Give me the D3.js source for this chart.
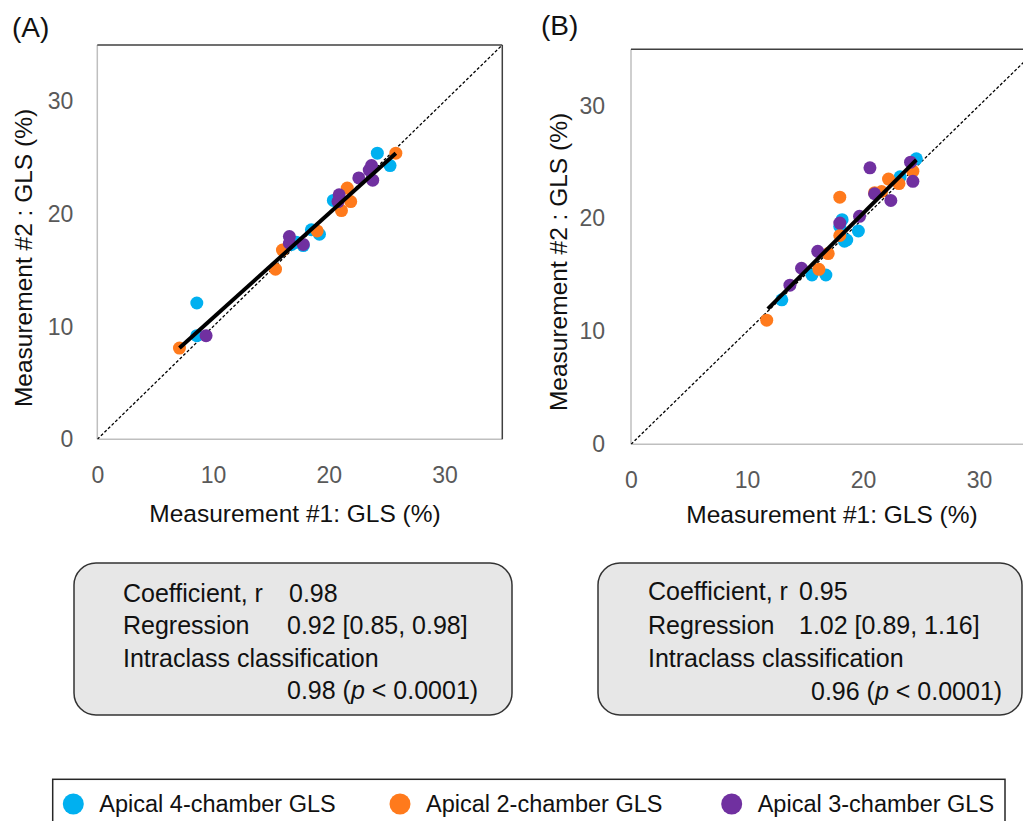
<!DOCTYPE html>
<html>
<head>
<meta charset="utf-8">
<script src="https://cdn.jsdelivr.net/npm/d3@7"></script>
<style>
  html, body { margin: 0; padding: 0; background: #fff; }
  svg { display: block; font-family: "Liberation Sans", Arial, sans-serif; }
</style>
</head>
<body>
<svg id="chart" width="1023" height="821"></svg>
<script>
// ---------- data ----------
const seriesNames = ["Apical 4-chamber GLS", "Apical 2-chamber GLS", "Apical 3-chamber GLS"];
const seriesColors = ["#00B0F0", "#FF7A1C", "#7030A0"];
const tickValues = [0, 10, 20, 30];
const axisDomain = [0, 35];

// Panel A (Measurement #1, Measurement #2)
const A_4ch = [[8.6,12.1],[8.6,9.2],[24.2,25.4],[25.3,24.3],[20.4,21.2],[18.5,18.6],[19.2,18.2],[17.2,17.5],[17.8,17.2],[16.8,17.3]];
const A_2ch = [[7.1,8.1],[25.8,25.4],[21.6,22.3],[21.9,21.1],[21.1,20.3],[19.0,18.5],[16.0,16.8],[15.4,15.1]];
const A_3ch = [[9.4,9.2],[23.7,24.3],[23.5,23.9],[22.6,23.2],[23.8,23.0],[20.9,21.7],[20.8,21.1],[16.6,18.0],[16.6,17.4],[17.8,17.3]];
const A_reg = [[7.1,8.1],[25.8,25.4]];

// Panel B
const B_4ch = [[13.0,12.8],[15.6,15.0],[16.8,15.0],[18.4,18.0],[18.6,18.1],[19.6,18.9],[18.2,19.9],[18.0,19.3],[23.2,23.7],[24.6,25.3]];
const B_2ch = [[11.7,11.0],[16.2,15.5],[17.0,16.9],[18.0,21.9],[18.0,18.5],[21.0,22.3],[21.6,22.4],[22.2,23.5],[23.1,23.1],[24.3,24.2]];
const B_3ch = [[13.7,14.1],[14.7,15.6],[16.1,17.1],[18.0,19.6],[19.7,20.2],[20.6,24.5],[21.0,22.2],[22.4,21.6],[24.1,25.0],[24.3,23.3]];
const B_reg = [[11.8,12.0],[24.6,25.2]];

const statLabels = ["Coefficient, r", "Regression", "Intraclass classification"];
const A_stats = ["0.98", "0.92 [0.85, 0.98]", "0.98"];
const B_stats = ["0.95", "1.02 [0.89, 1.16]", "0.96"];
const pText = "p";
const pRest = " < 0.0001)";

// ---------- drawing ----------
const svg = d3.select("#chart");

function panel(cfg) {
  const x = d3.scaleLinear().domain(axisDomain).range([cfg.x0, cfg.x1]);
  const y = d3.scaleLinear().domain(axisDomain).range([cfg.y0, cfg.y1]);
  const g = svg.append("g");

  const clipId = "clip" + cfg.id;
  svg.append("clipPath").attr("id", clipId).append("rect")
    .attr("x", cfg.x0).attr("y", cfg.y1).attr("width", cfg.x1 - cfg.x0).attr("height", cfg.y0 - cfg.y1);

  // frame: left & bottom grey, top & right dark
  g.append("line").attr("x1", cfg.x0).attr("x2", cfg.x0).attr("y1", cfg.y0).attr("y2", cfg.y1)
    .attr("stroke", "#bfbfbf").attr("stroke-width", 1.5);
  g.append("line").attr("x1", cfg.x0).attr("x2", cfg.x1).attr("y1", cfg.y0).attr("y2", cfg.y0)
    .attr("stroke", "#bfbfbf").attr("stroke-width", 1.5);
  g.append("line").attr("x1", cfg.x0).attr("x2", cfg.x1).attr("y1", cfg.y1).attr("y2", cfg.y1)
    .attr("stroke", "#404040").attr("stroke-width", 1.5);
  g.append("line").attr("x1", cfg.x1).attr("x2", cfg.x1).attr("y1", cfg.y0).attr("y2", cfg.y1)
    .attr("stroke", "#404040").attr("stroke-width", 1.5);

  // axes tick labels
  const ax = g.append("g").attr("transform", `translate(0,${cfg.y0})`)
    .call(d3.axisBottom(x).tickValues(tickValues).tickSize(0).tickPadding(27));
  const ay = g.append("g").attr("transform", `translate(${cfg.x0},0)`)
    .call(d3.axisLeft(y).tickValues(tickValues).tickSize(0).tickPadding(cfg.yPad));
  [ax, ay].forEach(a => {
    a.select(".domain").remove();
    a.selectAll("text").attr("font-size", 23).attr("fill", "#595959")
      .attr("font-family", '"Liberation Sans", Arial, sans-serif');
  });

  // identity line
  g.append("line").attr("clip-path", `url(#${clipId})`)
    .attr("x1", x(0)).attr("y1", y(0)).attr("x2", x(35)).attr("y2", y(35))
    .attr("stroke", "#000").attr("stroke-width", 1.3).attr("stroke-dasharray", "3,2");

  // points
  cfg.series.forEach((data, i) => {
    g.append("g").selectAll("circle").data(data).join("circle")
      .attr("cx", d => x(d[0])).attr("cy", d => y(d[1])).attr("r", 6.5)
      .attr("fill", seriesColors[i]);
  });

  // regression line
  g.append("path").datum(cfg.reg)
    .attr("d", d3.line().x(d => x(d[0])).y(d => y(d[1])))
    .attr("stroke", "#000").attr("stroke-width", 4).attr("fill", "none");

  // titles
  g.append("text").attr("x", cfg.xtX).attr("y", cfg.xtY).attr("text-anchor", "middle")
    .attr("font-size", 24.5).attr("fill", "#111").text("Measurement #1:  GLS (%)");
  g.append("text").attr("transform", `translate(${cfg.ytX},${cfg.ytY}) rotate(-90)`)
    .attr("text-anchor", "middle").attr("font-size", 24.5).attr("fill", "#111")
    .text(cfg.yTitle);
  g.append("text").attr("x", cfg.lblX).attr("y", cfg.lblY).attr("font-size", 28)
    .attr("fill", "#111").text(cfg.label);

  // stats box
  const b = cfg.box;
  g.append("rect").attr("x", b.x).attr("y", b.y).attr("width", b.w).attr("height", b.h)
    .attr("rx", 22).attr("ry", 22).attr("fill", "#e7e7e7").attr("stroke", "#333").attr("stroke-width", 1.5);
  const tg = g.append("g").attr("font-size", 25).attr("fill", "#111");
  statLabels.forEach((s, i) => {
    tg.append("text").attr("x", b.labX).attr("y", b.rows[i]).text(s);
  });
  tg.append("text").attr("x", b.rX).attr("y", b.rows[0]).text(cfg.stats[0]);
  tg.append("text").attr("x", b.regX).attr("y", b.rows[1]).text(cfg.stats[1]);
  const icc = tg.append("text").attr("x", b.iccX).attr("y", b.rows[3]);
  icc.append("tspan").text(cfg.stats[2] + " (");
  icc.append("tspan").attr("font-style", "italic").text(pText);
  icc.append("tspan").text(pRest);
}

panel({
  id: "A", x0: 97.3, x1: 502.3, y0: 439.3, y1: 45, yPad: 24,
  series: [A_4ch, A_2ch, A_3ch], reg: A_reg,
  xtX: 295, xtY: 522, ytX: 32, ytY: 258, yTitle: "Measurement #2 :  GLS (%)",
  lblX: 12, lblY: 37, label: "(A)",
  stats: A_stats,
  box: { x: 74, y: 563, w: 438, h: 152, labX: 123, rX: 289, regX: 287, iccX: 287, rows: [602, 634, 667, 699] }
});

panel({
  id: "B", x0: 631, x1: 1037, y0: 444.3, y1: 49.3, yPad: 26,
  series: [B_4ch, B_2ch, B_3ch], reg: B_reg,
  xtX: 832, xtY: 523, ytX: 567, ytY: 262, yTitle: "Measurement #2 :  GLS  (%)",
  lblX: 541, lblY: 35, label: "(B)",
  stats: B_stats,
  box: { x: 598, y: 563, w: 424, h: 152, labX: 648, rX: 799, regX: 799, iccX: 811, rows: [600, 634, 667, 700] }
});

// legend
const leg = svg.append("g");
leg.append("rect").attr("x", 52.7).attr("y", 779.3).attr("width", 952.3).attr("height", 60)
  .attr("fill", "#fff").attr("stroke", "#262626").attr("stroke-width", 1.5);
const legX = d3.scaleOrdinal().domain(seriesNames).range([73.3, 400, 731.7]);
seriesNames.forEach((n, i) => {
  leg.append("circle").attr("cx", legX(n)).attr("cy", 804).attr("r", 10.5).attr("fill", seriesColors[i]);
  leg.append("text").attr("x", legX(n) + 26).attr("y", 812).attr("font-size", 23.5)
    .attr("fill", "#111").text(n);
});
</script>
</body>
</html>
